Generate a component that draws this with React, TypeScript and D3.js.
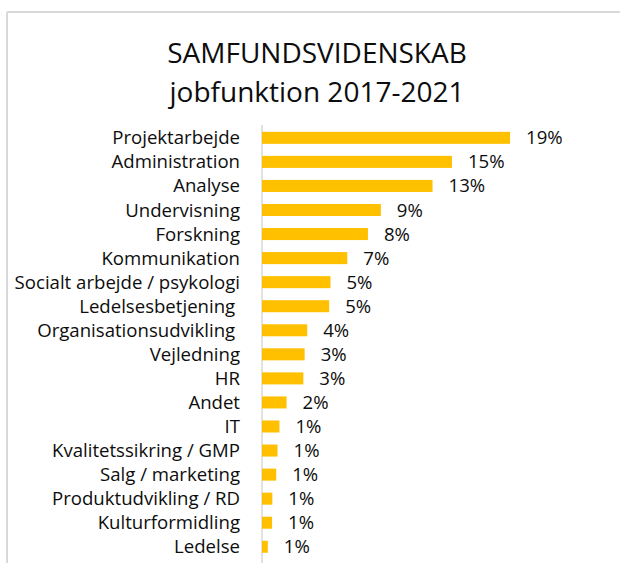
import React from "react";
import * as d3 from "d3";

const categories = [
  "Projektarbejde",
  "Administration",
  "Analyse",
  "Undervisning",
  "Forskning",
  "Kommunikation",
  "Socialt arbejde / psykologi",
  "Ledelsesbetjening ",
  "Organisationsudvikling ",
  "Vejledning",
  "HR",
  "Andet",
  "IT",
  "Kvalitetssikring / GMP",
  "Salg / marketing",
  "Produktudvikling / RD",
  "Kulturformidling",
  "Ledelse",
];

const values = [19.2, 14.7, 13.2, 9.2, 8.2, 6.6, 5.3, 5.2, 3.5, 3.3, 3.2, 1.9, 1.35, 1.2, 1.1, 0.8, 0.78, 0.45];

const valueLabels = ["19%", "15%", "13%", "9%", "8%", "7%", "5%", "5%", "4%", "3%", "3%", "2%", "1%", "1%", "1%", "1%", "1%", "1%"];

const titleLines = ["SAMFUNDSVIDENSKAB", "jobfunktion 2017-2021"];

const W = 620;
const H = 563;
const FONT = "'Open Sans', 'Noto Sans', sans-serif";

export default function App() {
  const x = d3.scaleLinear().domain([0, 20]).range([262, 262 + 20 * 12.92]);
  const y = d3
    .scaleBand<string>()
    .domain(categories)
    .range([125.8, 558.8])
    .paddingInner(0.5)
    .paddingOuter(0.25);

  return (
    <svg
      width={W}
      height={H}
      style={{ position: "absolute", left: 0, top: 0, background: "#fff" }}
      fontFamily={FONT}
    >
      <rect x={0} y={0} width={W} height={H} fill="#fff" />
      {/* chart frame */}
      <line x1={7} x2={W} y1={12} y2={12} stroke="#d9d9d9" strokeWidth={2} />
      <line x1={7} x2={7} y1={12} y2={H} stroke="#d9d9d9" strokeWidth={2} />
      {/* title */}
      {titleLines.map((t, i) => (
        <text
          key={t}
          x={317}
          y={63 + i * 39}
          textAnchor="middle"
          fontSize={28}
          fill="#0d0d0d"
        >
          {t}
        </text>
      ))}
      {/* axis line */}
      <line x1={x(0)} x2={x(0)} y1={125} y2={H} stroke="#d9d9d9" strokeWidth={1.5} />
      {categories.map((c, i) => {
        const yc = (y(c) as number) + y.bandwidth() / 2;
        return (
          <g key={c + i}>
            <rect
              x={x(0)}
              y={y(c)}
              width={x(values[i]) - x(0)}
              height={y.bandwidth()}
              fill="#FFC000"
            />
            <text
              x={240}
              y={yc}
              dy="0.35em"
              textAnchor="end"
              fontSize={18.6}
              fill="#0d0d0d"
              style={{ whiteSpace: "pre" }}
            >
              {c}
            </text>
            <text
              x={x(values[i]) + 16}
              y={yc}
              dy="0.35em"
              fontSize={18.6}
              fill="#0d0d0d"
            >
              {valueLabels[i]}
            </text>
          </g>
        );
      })}
    </svg>
  );
}
